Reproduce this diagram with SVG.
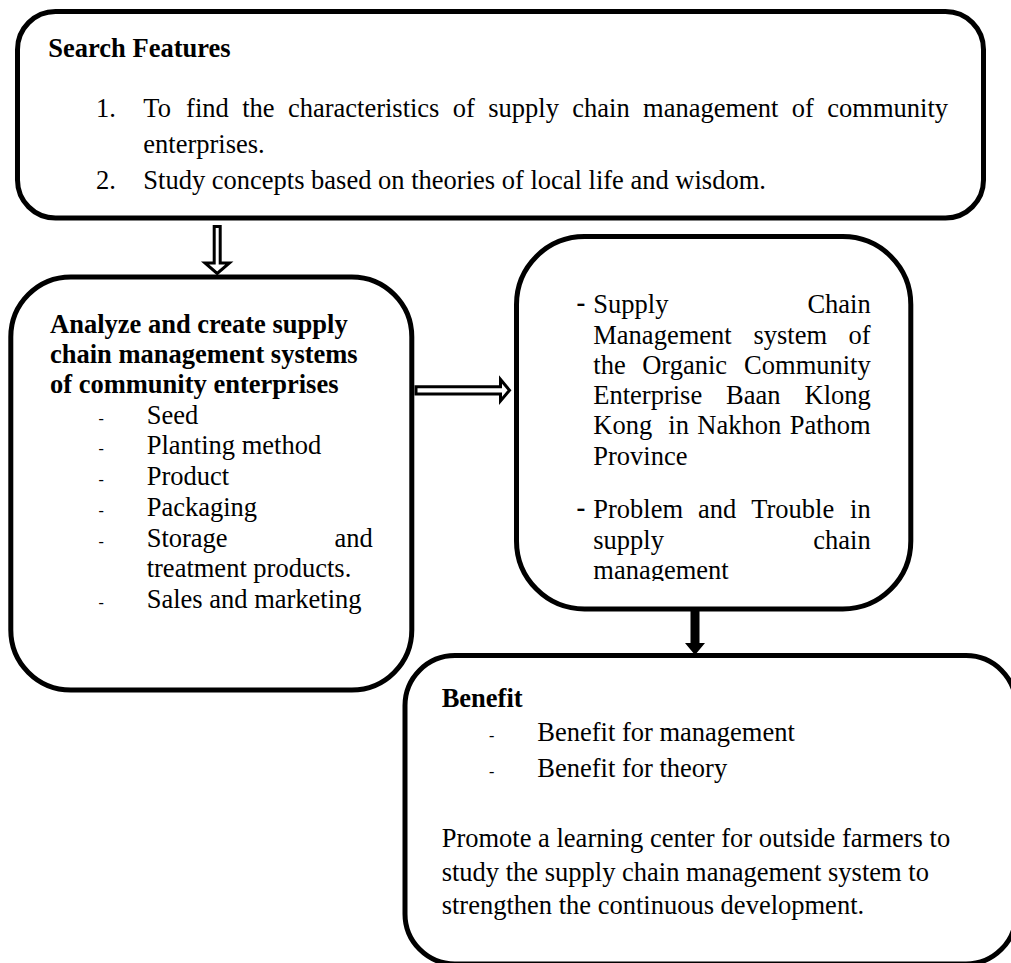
<svg xmlns="http://www.w3.org/2000/svg" width="1011" height="963" viewBox="0 0 1011 963">
  <style>
    .box { fill: #ffffff; stroke: #000000; stroke-width: 5; }
    .t { font-family: "Liberation Serif", "Times New Roman", serif; font-size: 26.5px; fill: #000000; }
    .b { font-weight: bold; }
    .dash { font-family: "Liberation Serif", "Times New Roman", serif; font-size: 16px; fill: #000000; }
    .bigdash { font-family: "Liberation Serif", "Times New Roman", serif; font-size: 26.5px; font-weight: bold; fill: #000000; }
    .hollow { fill: #ffffff; stroke: #000000; stroke-width: 3; stroke-linejoin: miter; }
    .solid { fill: #000000; stroke: none; }
  </style>
  <defs>
    <clipPath id="clip-findings">
      <rect x="520" y="240" width="388" height="341"/>
    </clipPath>
  </defs>

  <rect x="0" y="0" width="1011" height="963" fill="#ffffff"/>

  <!-- Research objectives -->
  <g id="search-features">
    <rect class="box" x="17.5" y="11.5" width="966" height="206.5" rx="38" ry="38"/>
    <text class="t b" x="48.3" y="57">Search Features</text>
    <text class="t" x="96" y="116.5">1.</text>
    <text class="t" y="116.5"><tspan x="143.3">To</tspan><tspan x="186.1">find</tspan><tspan x="242.15">the</tspan><tspan x="287.9">characteristics</tspan><tspan x="452.8">of</tspan><tspan x="488.3">supply</tspan><tspan x="572.3">chain</tspan><tspan x="643.1">management</tspan><tspan x="791.8">of</tspan><tspan x="827.3">community</tspan></text>
    <text class="t" x="143.3" y="152.5">enterprises.</text>
    <text class="t" x="96" y="188.5">2.</text>
    <text class="t" x="143.3" y="188.5">Study concepts based on theories of local life and wisdom.</text>
  </g>

  <!-- Analysis of the supply chain -->
  <g id="analyze">
    <rect class="box" x="10.8" y="277" width="401" height="413" rx="60" ry="60"/>
    <text class="t b" x="50" y="333.3">Analyze and create supply</text>
    <text class="t b" x="50" y="363.3">chain management systems</text>
    <text class="t b" x="50" y="393.3">of community enterprises</text>
    <text class="dash" x="98.5" y="423.5">-</text>
    <text class="t" x="146.7" y="423.5">Seed</text>
    <text class="dash" x="98.5" y="454">-</text>
    <text class="t" x="146.7" y="454">Planting method</text>
    <text class="dash" x="98.5" y="485">-</text>
    <text class="t" x="146.7" y="485">Product</text>
    <text class="dash" x="98.5" y="516">-</text>
    <text class="t" x="146.7" y="516">Packaging</text>
    <text class="dash" x="98.5" y="546.5">-</text>
    <text class="t" y="546.5"><tspan x="146.7">Storage</tspan><tspan x="334.4">and</tspan></text>
    <text class="t" x="146.7" y="577">treatment products.</text>
    <text class="dash" x="98.5" y="608">-</text>
    <text class="t" x="146.7" y="608">Sales and marketing</text>
  </g>

  <!-- Findings -->
  <g id="findings">
    <rect class="box" x="516.5" y="236.5" width="394.3" height="372.5" rx="68" ry="68"/>
    <text class="bigdash" x="576.5" y="311">-</text>
    <text class="t" y="313.3"><tspan x="593.3">Supply</tspan><tspan x="807.4">Chain</tspan></text>
    <text class="t" y="343.5"><tspan x="593.3">Management</tspan><tspan x="753.4">system</tspan><tspan x="848.6">of</tspan></text>
    <text class="t" y="373.7"><tspan x="593.3">the</tspan><tspan x="642.2">Organic</tspan><tspan x="744.1">Community</tspan></text>
    <text class="t" y="404"><tspan x="593.3">Enterprise</tspan><tspan x="726.1">Baan</tspan><tspan x="804.5">Klong</tspan></text>
    <text class="t" y="434.3"><tspan x="593.3">Kong</tspan><tspan x="668.3">in</tspan><tspan x="697.3">Nakhon</tspan><tspan x="789.7">Pathom</tspan></text>
    <text class="t" x="593.3" y="464.7">Province</text>
    <text class="bigdash" x="576.5" y="516">-</text>
    <text class="t" y="518"><tspan x="593.3">Problem</tspan><tspan x="698">and</tspan><tspan x="751.2">Trouble</tspan><tspan x="850.1">in</tspan></text>
    <text class="t" y="548.5"><tspan x="593.3">supply</tspan><tspan x="813.3">chain</tspan></text>
    <text class="t" x="593.3" y="578.5" clip-path="url(#clip-findings)">management</text>
  </g>

  <!-- Outcomes -->
  <g id="benefit">
    <rect class="box" x="405" y="655.5" width="611" height="308.5" rx="50" ry="50"/>
    <text class="t b" x="441.7" y="706.7">Benefit</text>
    <text class="dash" x="489" y="740.5">-</text>
    <text class="t" x="537.3" y="740.5">Benefit for management</text>
    <text class="dash" x="489" y="776.5">-</text>
    <text class="t" x="537.3" y="776.5">Benefit for theory</text>
    <text class="t" x="441.7" y="846.7">Promote a learning center for outside farmers to</text>
    <text class="t" x="441.7" y="880.5">study the supply chain management system to</text>
    <text class="t" x="441.7" y="914.3">strengthen the continuous development.</text>
  </g>

  <!-- Connectors -->
  <g id="connectors">
    <polygon class="hollow" points="214.2,226.5 220.2,226.5 220.2,263 229.4,263 217.2,273.5 205,263 214.2,263"/>
    <polygon class="hollow" points="416,386.8 500.5,386.8 500.5,379.5 509.5,390.3 500.5,401 500.5,394 416,394"/>
    <polygon class="solid" points="690.5,611 699.5,611 699.5,643 705,643 695,655 685,643 690.5,643"/>
  </g>
</svg>
